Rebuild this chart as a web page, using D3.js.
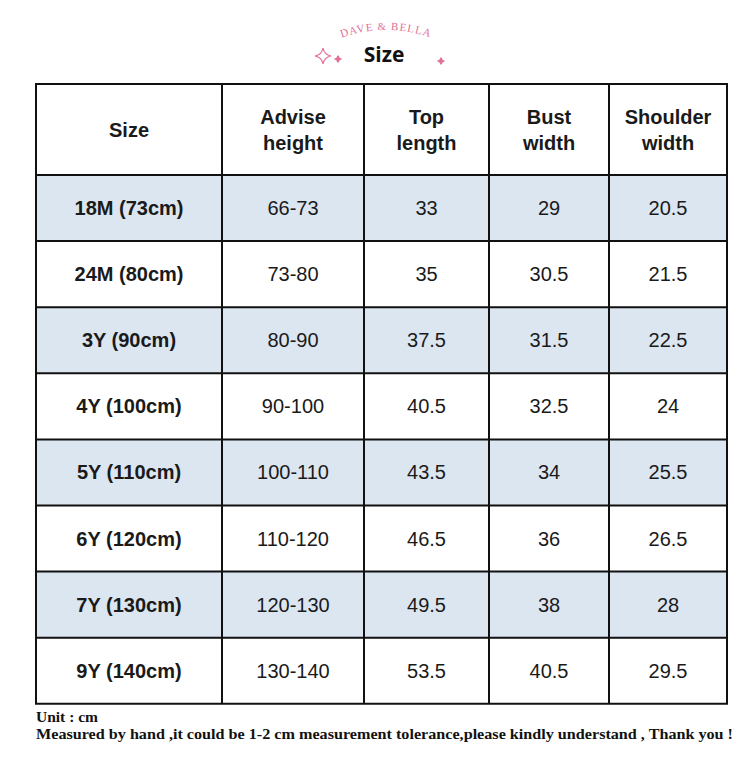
<!DOCTYPE html>
<html><head><meta charset="utf-8">
<script src="https://cdn.jsdelivr.net/npm/d3@7"></script>
<style>body{margin:0;background:#fff}</style></head>
<body><svg id="c" width="750" height="759"></svg>
<script>
const headers = [["Size"],["Advise","height"],["Top","length"],["Bust","width"],["Shoulder","width"]];
const sizes = ["18M (73cm)","24M (80cm)","3Y (90cm)","4Y (100cm)","5Y (110cm)","6Y (120cm)","7Y (130cm)","9Y (140cm)"];
const adviseHeight = ["66-73","73-80","80-90","90-100","100-110","110-120","120-130","130-140"];
const topLength = [33,35,37.5,40.5,43.5,46.5,49.5,53.5];
const bustWidth = [29,30.5,31.5,32.5,34,36,38,40.5];
const shoulderWidth = [20.5,21.5,22.5,24,25.5,26.5,28,29.5];

const svg = d3.select("#c");
const colEdges = [36,222,364,489,609,727];
const x = i => colEdges[i];
const top0 = 84, headH = 91, rowH = 66.1;
const y = d3.scaleLinear().domain([0,8]).range([top0+headH, top0+headH+8*rowH]);
const font = "'Liberation Sans', Arial, sans-serif";

const g = svg.append("g");
g.append("path").attr("id","arc").attr("d","M330,42 Q386,18 442,42").attr("fill","none");
g.append("text").attr("font-family","'Liberation Serif',serif").attr("font-size",11).attr("fill","#e0709a").attr("letter-spacing",1)
 .append("textPath").attr("href","#arc").attr("startOffset","50%").attr("text-anchor","middle").text("DAVE & BELLA");
g.append("text").attr("x",384).attr("y",62).attr("text-anchor","middle").attr("font-family","'Open Sans',sans-serif").attr("font-weight",700).attr("font-size",21).attr("fill","#111").text("Size");
function star(cx,cy,r,fill){
  const p=`M${cx},${cy-r} Q${cx+r*0.15},${cy-r*0.15} ${cx+r},${cy} Q${cx+r*0.15},${cy+r*0.15} ${cx},${cy+r} Q${cx-r*0.15},${cy+r*0.15} ${cx-r},${cy} Q${cx-r*0.15},${cy-r*0.15} ${cx},${cy-r}Z`;
  g.append("path").attr("d",p).attr("fill",fill).attr("stroke","#e0709a").attr("stroke-width",1.2);
}
star(323,56,8,"#fff"); star(338,59,3.5,"#e0709a"); star(441,61,3.5,"#e0709a");

const rows = sizes.map((s,i)=>[s,adviseHeight[i],topLength[i],bustWidth[i],shoulderWidth[i]]);
svg.selectAll("rect.row").data(rows).join("rect")
 .attr("x",x(0)).attr("width",x(5)-x(0)).attr("y",(d,i)=>y(i)).attr("height",rowH)
 .attr("fill",(d,i)=>i%2===0?"#dce6f1":"#fff");

headers.forEach((h,j)=>{
  const cx=(x(j)+x(j+1))/2;
  h.forEach((t,k)=>{
    svg.append("text").attr("x",cx).attr("y",h.length===1?top0+headH/2+7:top0+headH/2-6+k*26)
     .attr("text-anchor","middle").attr("font-family",font).attr("font-weight",700).attr("font-size",20).attr("fill","#1a1a1a").text(t);
  });
});
rows.forEach((r,i)=>{
  r.forEach((v,j)=>{
    svg.append("text").attr("x",(x(j)+x(j+1))/2).attr("y",y(i)+rowH/2+7).attr("text-anchor","middle")
     .attr("font-family",font).attr("font-weight",j===0?700:400).attr("font-size",20).attr("fill","#1a1a1a").text(v);
  });
});
const bottom = y(8);
colEdges.forEach(cx=>svg.append("line").attr("x1",cx).attr("x2",cx).attr("y1",top0).attr("y2",bottom).attr("stroke","#111").attr("stroke-width",2));
[top0].concat(d3.range(9).map(y)).forEach(yy=>svg.append("line").attr("x1",x(0)-1).attr("x2",x(5)+1).attr("y1",yy).attr("y2",yy).attr("stroke","#111").attr("stroke-width",2));

const ff="'Liberation Serif',serif";
svg.append("text").attr("x",36).attr("y",722).attr("font-family",ff).attr("font-weight",700).attr("font-size",15).attr("fill","#111")
 .attr("textLength",62).attr("lengthAdjust","spacingAndGlyphs").text("Unit : cm");
svg.append("text").attr("x",36).attr("y",739).attr("font-family",ff).attr("font-weight",700).attr("font-size",15).attr("fill","#111")
 .attr("textLength",697).attr("lengthAdjust","spacingAndGlyphs").text("Measured by hand ,it could be 1-2 cm measurement tolerance,please kindly understand , Thank you !");
</script></body></html>
